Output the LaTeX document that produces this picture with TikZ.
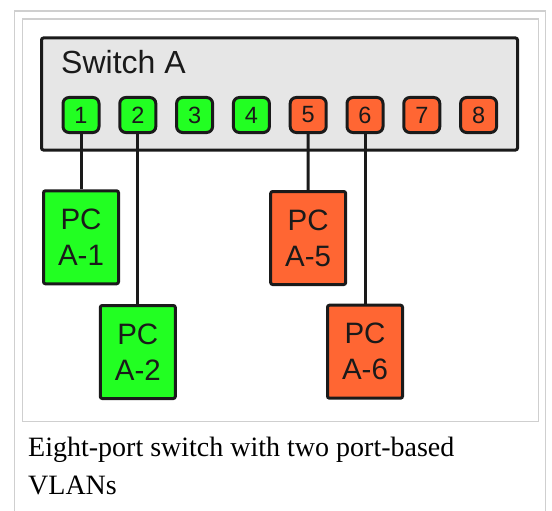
\documentclass[tikz,border=0pt]{standalone}
\usepackage{fontspec}
\setmainfont{Liberation Serif}
\newfontfamily\arialfont{Liberation Sans}
\usepackage{xcolor}
\usepackage{tikz}
\usetikzlibrary{positioning}

\definecolor{vlangreen}{HTML}{22FF22}
\definecolor{vlanorange}{HTML}{FF6633}
\definecolor{switchgray}{HTML}{E6E6E6}
\definecolor{framegray}{HTML}{CFCFCF}
\definecolor{inkblack}{HTML}{1A1A1A}

\begin{document}
\begin{tikzpicture}[
    x=1pt, y=-1pt,
    switchbox/.style={draw=inkblack, fill=switchgray, line width=3pt, rounded corners=2pt,
        minimum width=476pt, minimum height=112pt, inner sep=0pt},
    port/.style={draw=inkblack, line width=3pt, rounded corners=6pt, inner sep=0pt,
        minimum width=36pt, minimum height=35pt, font=\arialfont\fontsize{23.5}{23.5}\selectfont, text=inkblack},
    pc/.style={draw=inkblack, line width=3pt, rounded corners=2pt, inner sep=0pt, align=center,
        minimum width=75pt, minimum height=93pt, font=\arialfont\fontsize{29.5}{36}\selectfont, text=inkblack},
    link/.style={draw=inkblack, line width=3pt},
    frame/.style={draw=framegray, line width=1.5pt}
]
\useasboundingbox (0,0) rectangle (552,511);

% caption frame
\draw[frame] (14.7,511) -- (14.7,11) -- (545.7,11) -- (545.7,511);
\draw[frame] (22.7,19) rectangle (538.7,421.7);

\node[switchbox] (switch) at (279.5,94) {};
\node[anchor=base west, inner sep=0pt, text=inkblack,
      font=\arialfont\fontsize{32}{32}\selectfont] (swname) at (61,74) {Switch A};

\foreach \i in {1,...,4}
    \node[port, fill=vlangreen] (p\i) at ({81+56.8*(\i-1)},115) {\i};
\foreach \i in {5,...,8}
    \node[port, fill=vlanorange] (p\i) at ({81+56.8*(\i-1)},115) {\i};

\node[pc, fill=vlangreen] (pc1) at (81,237.3) {PC\\A-1};
\node[pc, fill=vlangreen] (pc2) at (137.8,352) {PC\\A-2};
\node[pc, fill=vlanorange] (pc5) at (308.2,238) {PC\\A-5};
\node[pc, fill=vlanorange] (pc6) at (365,351.7) {PC\\A-6};

\draw[link] (p1.south) -- (pc1.north);
\draw[link] (p2.south) -- (pc2.north);
\draw[link] (p5.south) -- (pc5.north);
\draw[link] (p6.south) -- (pc6.north);

% base anchor sits on the last line
\node[anchor=base west, inner sep=0pt, align=left,
      font=\fontsize{28}{38}\selectfont] (caption) at (28,494.5)
    {Eight-port switch with two port-based\\VLANs};

\end{tikzpicture}
\end{document}
